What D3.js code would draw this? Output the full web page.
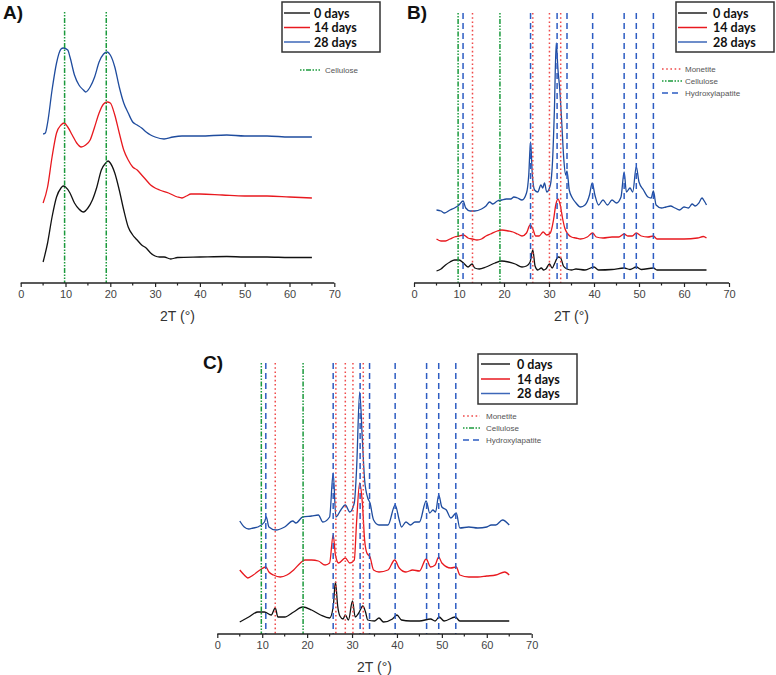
<!DOCTYPE html>
<html><head><meta charset="utf-8">
<script src="https://cdn.jsdelivr.net/npm/d3@7"></script>
<style>body{margin:0;background:#fff}svg{display:block}</style>
</head><body>
<svg id="chart" width="776" height="675"></svg>
<script>
// ---------- DATA ----------
const seriesNames = ["0 days", "14 days", "28 days"];
const xTicks = [0, 10, 20, 30, 40, 50, 60, 70];
const cellulosePeaks = [9.8, 19.1];
const monetitePeaksB = [13.0, 26.4, 30.1, 32.6];
const monetitePeaksC = [12.9, 26.4, 28.5, 30.2, 32.5];
const hydroxyPeaksB = [10.9, 25.9, 31.8, 34.0, 39.7, 46.7, 49.4, 53.2];
const hydroxyPeaksC = [10.8, 25.8, 31.8, 33.9, 39.6, 46.6, 49.3, 53.1];

// Panel A (intensity, a.u., offset traces)
const A_0 = [[5,21],[6,40],[7,66],[8,86],[9,95],[9.5,97],[10,96],[11,90],[12,80],[13,74],[14,71],[15,75],[16,83],[17,96],[18,113],[19,120],[19.5,122],[20,120],[21,110],[22,93],[23,73],[24,56],[25,48],[26,43],[27,38],[28,35],[29,30],[30,27],[31,26],[32,26],[33.5,24],[35,25.5],[40,26],[46,26.5],[50,26],[55,26],[60,25.5],[65,25.5]];
const A_14 = [[5,80],[6,96],[7,126],[8,150],[9,158],[9.7,160],[10.5,156],[11.5,148],[12.5,140],[13.5,136],[14.5,138],[15.5,143],[16.5,156],[17.5,170],[18.5,179],[19.3,181],[20,180],[21,168],[22,150],[23,133],[24,123],[25,116],[26,113],[27,108],[28,103],[29,98],[30,95],[31,93],[33,90],[35,86],[36,85],[37,87],[38,89],[40,89],[45,88],[50,87],[55,87],[60,86],[65,85]];
const A_28 = [[5,149],[5.5,150],[6,160],[7,193],[8,220],[9,234],[9.5,235],[10.5,233],[11,226],[12,208],[13,198],[14,193],[14.5,191],[15.5,196],[16.5,206],[17.5,221],[18.5,229],[19.3,231],[20,228],[21,216],[22,196],[23,180],[24,170],[25,161],[26,158],[27,155],[28,151],[29,148],[30,146],[32,144],[34,146],[36,147],[40,147],[46,148],[50,147],[55,147],[60,146],[65,146]];

// Panel B
const B_0 = [[5,12],[6,14],[7,18],[8,21],[9,23],[10,23],[11,20],[12,16],[12.9,19],[13.5,15],[14.5,14],[16,16],[18,20],[19.5,22],[21,21],[22.5,19],[24,16],[25,17],[25.8,21],[26.4,33],[26.9,17],[27.5,13],[28.3,15],[28.8,13],[29.3,14],[30.1,19],[30.7,15],[31.3,20],[32,26],[32.6,25],[33.2,17],[34,14],[35,13],[36,14],[38,13],[40,16],[41,13],[44,13.5],[46.7,15],[48,13.5],[49.4,16],[50.5,13.5],[53.2,15],[54,13],[58,13],[65,13]];
const B_14 = [[5,44],[6,42],[7,42],[8,44],[9,46],[10,47],[11,48],[12,45],[13,44],[14,43],[15,44],[16,47],[17,49],[18.5,52],[19.5,53],[21,52],[22,51],[23,49],[24,47],[25,50],[25.8,58],[26.5,53],[27,47],[27.8,47],[28.7,51],[29.5,48],[30.3,50],[31,63],[31.5,78],[32,84],[32.5,78],[33,65],[33.5,55],[34.2,49],[35,46],[36,45],[37,44],[38.5,46],[39.7,50],[40.5,46],[42,45],[44,46],[45.5,46],[46.7,49],[47.5,47],[48.5,47],[49.4,50],[50.5,47],[52,46],[53.2,47],[54,44],[57,44],[60,44],[63,45],[64.3,46.5],[65,45]];
const B_28 = [[5,73],[6,72],[6.8,70],[8,73],[9,75],[10,78],[10.9,82],[11.5,75],[12.5,72],[13.5,72],[15,74],[16,77],[16.8,81],[17.5,79],[18.5,82],[19.5,83],[20.5,84],[21.5,84],[22.2,86],[23,85],[24,83],[25,90],[25.5,108],[25.9,141],[26.3,108],[26.8,93],[27.5,91],[28.2,98],[28.6,95],[29,100],[29.5,91],[30.3,98],[30.8,123],[31.2,173],[31.6,240],[32,213],[32.4,193],[32.8,163],[33.3,123],[33.7,108],[34,112],[34.5,93],[35.2,85],[36,80],[37,76],[38,78],[39,88],[39.6,100],[40.2,88],[41,78],[42,83],[43,78],[44,83],[45,80],[46,86],[46.7,111],[47.2,91],[48,95],[48.6,91],[49.4,116],[50,101],[51,93],[52,86],[52.7,85],[53.2,92],[53.8,78],[55,75],[56,76],[57,77],[58,75],[59,73],[60,76],[61,75],[61.8,79],[62.5,77],[63.3,80],[64,85],[64.5,82],[65,78]];

// Panel C
const C_0 = [[5,12],[7,17],[9,22],[10.5,22],[12,19],[12.9,26],[13.5,17],[15,17],[17,22],[19,27],[21,24],[23,19],[25,16],[25.8,27],[26.3,52],[26.8,28],[27.3,18],[28,15],[28.5,19],[29.2,14],[30.1,33],[30.7,17],[31.5,21],[32.4,28],[33,22],[33.5,14],[35,13],[36,16],[37,12],[39,15],[40,19],[41,14],[43,13],[45,13],[47.5,15],[48.5,13],[49.4,17],[50.5,13],[53,17],[54,13],[57,13],[60,13],[65,13]];
const C_14 = [[5,64],[6,59],[6.8,56],[8,59],[9.5,64],[10.8,67],[11.5,62],[12.5,59],[14,57],[15.5,59],[17,64],[18.5,71],[19.5,74],[21,74],[22.5,73],[24,69],[25,71],[25.8,99],[26.3,79],[27,71],[28.5,76],[29.5,71],[30.5,74],[31,111],[31.7,151],[32.3,131],[32.8,94],[33.3,81],[34,77],[34.8,64],[36,62],[38,64],[39.5,74],[40.5,66],[42,62],[43.5,64],[45,63],[46.5,75],[47.5,67],[48.5,69],[49.3,77],[50,71],[52,66],[53.2,67],[54,59],[56,57],[58,57],[60,58],[62,59],[64,62],[65,59]];
const C_28 = [[5,113],[6,107],[7,105],[8,106],[9,107],[10.5,112],[10.9,117],[11.5,107],[13,104],[15,107],[16.8,113],[17.5,111],[19,117],[21,118],[22.5,119],[23.5,112],[25,117],[25.8,161],[26.4,117],[27.5,124],[28.5,129],[29.5,122],[30.5,131],[31,164],[31.7,242],[32.3,194],[32.8,154],[33.5,136],[34,131],[34.8,114],[36,109],[38,109],[39.6,129],[40.5,114],[41,107],[42,112],[43,109],[44,112],[45,112],[46.5,133],[47.3,121],[48,124],[48.6,122],[49.3,139],[50,127],[51,124],[52,116],[53.2,121],[54,106],[56,107],[58,106],[60,107],[61,109],[62,109],[63.5,114],[65,109]];

// ---------- STYLE ----------
const seriesColors = ["#111111", "#e8191f", "#1f4c9e"];
const legendColors = ["#222222", "#e8191f", "#3c67b8"];
const refStyles = {
  Monetite: {color: "#ef4a4a", dash: "1.6,2.6"},
  Cellulose: {color: "#1b9a3c", dash: "1.5,1.5,1.5,1.5,5,1.5"},
  Hydroxylapatite: {color: "#2d5cc2", dash: "6,4"}
};

const panels = [
  {label: "A)", lx: 3, ly: 19, x0: 20.7, x1: 334.3, axisY: 283, lineTop: 12,
   series: [A_0, A_14, A_28],
   refs: [["Cellulose", cellulosePeaks]],
   legend: {bx: 282, by: 2, bw: 98, bh: 50, rows: [13, 27.5, 42], lx0: 284, lx1: 310, tx: 314},
   small: {rows: [70], lx0: 300, lx1: 320, tx: 325, names: ["Cellulose"]}},
  {label: "B)", lx: 407, ly: 19, x0: 414, x1: 729, axisY: 283, lineTop: 13,
   series: [B_0, B_14, B_28],
   refs: [["Monetite", monetitePeaksB], ["Cellulose", cellulosePeaks], ["Hydroxylapatite", hydroxyPeaksB]],
   legend: {bx: 676, by: 2, bw: 98, bh: 50, rows: [13, 27.5, 42], lx0: 678, lx1: 707, tx: 713},
   small: {rows: [69, 81, 93], lx0: 662, lx1: 682, tx: 685, names: ["Monetite", "Cellulose", "Hydroxylapatite"]}},
  {label: "C)", lx: 203, ly: 369, x0: 217.3, x1: 531.7, axisY: 634, lineTop: 363,
   series: [C_0, C_14, C_28],
   refs: [["Monetite", monetitePeaksC], ["Cellulose", cellulosePeaks], ["Hydroxylapatite", hydroxyPeaksC]],
   legend: {bx: 478, by: 354, bw: 99, bh: 50, rows: [364, 379, 393.5], lx0: 481, lx1: 510, tx: 517},
   small: {rows: [416, 428, 440], lx0: 463, lx1: 480, tx: 486, names: ["Monetite", "Cellulose", "Hydroxylapatite"]}}
];

const svg = d3.select("#chart");

panels.forEach(p => {
  const g = svg.append("g");
  const x = d3.scaleLinear().domain([0, 70]).range([p.x0, p.x1]);
  const y = d3.scaleLinear().domain([0, 300]).range([p.axisY, p.axisY - 300]);

  // traces
  const line = d3.line().x(d => x(d[0])).y(d => y(d[1])).curve(d3.curveMonotoneX);
  p.series.forEach((s, i) => {
    g.append("path").datum(s).attr("d", line)
      .attr("fill", "none").attr("stroke", seriesColors[i]).attr("stroke-width", 1.3)
      .attr("stroke-linejoin", "round");
  });

  // reference lines
  p.refs.forEach(([name, peaks]) => {
    const st = refStyles[name];
    g.selectAll(null).data(peaks).enter().append("line")
      .attr("x1", d => x(d)).attr("x2", d => x(d))
      .attr("y1", p.lineTop).attr("y2", p.axisY)
      .attr("stroke", st.color).attr("stroke-width", 1.5)
      .attr("stroke-dasharray", st.dash);
  });

  // x axis
  const axG = g.append("g").attr("transform", `translate(0,${p.axisY})`);
  axG.call(d3.axisBottom(x).tickValues(xTicks).tickSize(4).tickPadding(3).tickFormat(d3.format("d")));
  axG.select(".domain").attr("stroke", "#222").attr("stroke-width", 1.4);
  axG.selectAll(".tick line").attr("stroke", "#222").attr("stroke-width", 1.2);
  axG.selectAll(".tick text").attr("font-family", "Liberation Sans, Arial, sans-serif")
    .attr("font-size", 11).attr("fill", "#444");
  axG.selectAll(".minor").data(d3.range(5, 70, 10)).enter().append("line")
    .attr("x1", d => x(d)).attr("x2", d => x(d)).attr("y1", 0).attr("y2", 2.5)
    .attr("stroke", "#222").attr("stroke-width", 1.2);
  axG.select(".domain").attr("d", `M${x(0)},0H${x(70)}`);

  g.append("text").attr("x", (p.x0 + p.x1) / 2).attr("y", p.axisY + 38)
    .attr("text-anchor", "middle").attr("font-family", "Liberation Sans, Arial, sans-serif")
    .attr("font-size", 14).attr("fill", "#333").text("2T (°)");

  // panel label
  g.append("text").attr("x", p.lx).attr("y", p.ly)
    .attr("font-family", "Liberation Sans, Arial, sans-serif").attr("font-weight", "bold")
    .attr("font-size", 19).attr("fill", "#111").text(p.label);

  // series legend
  const L = p.legend;
  g.append("rect").attr("x", L.bx).attr("y", L.by).attr("width", L.bw).attr("height", L.bh)
    .attr("fill", "#fff").attr("stroke", "#333").attr("stroke-width", 1.5);
  seriesNames.forEach((n, i) => {
    g.append("line").attr("x1", L.lx0).attr("x2", L.lx1).attr("y1", L.rows[i]).attr("y2", L.rows[i])
      .attr("stroke", legendColors[i]).attr("stroke-width", 1.5);
    g.append("text").attr("x", L.tx).attr("y", L.rows[i]).attr("dy", "0.36em")
      .attr("font-family", "Lato, Carlito, sans-serif").attr("font-weight", "bold")
      .attr("font-size", 12.5).attr("fill", "#111").text(n);
  });

  // reference legend
  const S = p.small;
  S.names.forEach((n, i) => {
    const st = refStyles[n];
    g.append("line").attr("x1", S.lx0).attr("x2", S.lx1).attr("y1", S.rows[i]).attr("y2", S.rows[i])
      .attr("stroke", st.color).attr("stroke-width", 1.5).attr("stroke-dasharray", st.dash);
    g.append("text").attr("x", S.tx).attr("y", S.rows[i]).attr("dy", "0.35em")
      .attr("font-family", "Liberation Sans, Arial, sans-serif")
      .attr("font-size", 8).attr("fill", "#555").text(n);
  });
});
</script>
</body></html>
